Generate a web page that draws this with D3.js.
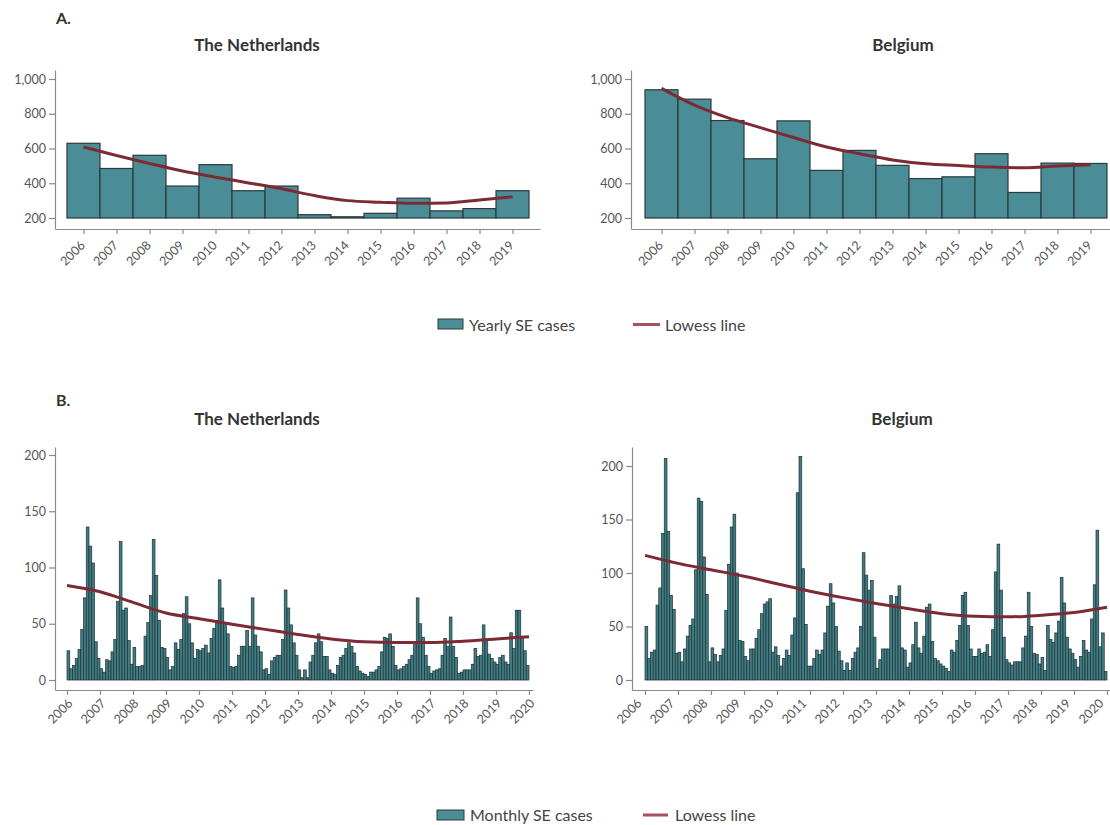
<!DOCTYPE html>
<html>
<head>
<meta charset="utf-8">
<script src="https://cdn.jsdelivr.net/npm/d3@7"></script>
<style>
  body { margin: 0; background: #fff; }
  svg { display: block; font-family: Lato, "Open Sans", sans-serif; }
</style>
</head>
<body>
<script>
// ---- data ----------------------------------------------------------------
const years = [2006, 2007, 2008, 2009, 2010, 2011, 2012, 2013, 2014, 2015, 2016, 2017, 2018, 2019];
const monthAxisYears = [2006, 2007, 2008, 2009, 2010, 2011, 2012, 2013, 2014, 2015, 2016, 2017, 2018, 2019, 2020];

const yearlyTicks = [200, 400, 600, 800, 1000];
const monthlyTicks = [0, 50, 100, 150, 200];

// Yearly SE cases
const nlYearly = [630, 485, 561, 384, 507, 357, 384, 219, 207, 227, 314, 241, 254, 357];
const beYearly = [938, 884, 761, 541, 759, 474, 589, 503, 427, 437, 570, 347, 516, 514];

// Lowess fit of the yearly counts (one value per year)
const nlYearlyLowess = [609, 560, 514, 470, 435, 402, 368, 329, 300, 291, 285, 287, 304, 322];
const beYearlyLowess = [946, 850, 778, 720, 663, 609, 570, 534, 512, 502, 493, 489, 499, 507];

// Monthly SE cases, Jan 2006 - Dec 2019
const nlMonthly = [
  26, 10, 13, 19, 27, 45, 73, 136, 119, 104, 34, 19,
  10, 7, 18, 17, 25, 36, 70, 123, 62, 64, 35, 14,
  29, 12, 12, 13, 39, 51, 75, 125, 93, 53, 29, 28,
  20, 9, 12, 33, 27, 36, 59, 74, 50, 33, 19, 27,
  26, 28, 31, 24, 37, 46, 53, 89, 64, 51, 41, 12,
  11, 12, 22, 30, 30, 44, 30, 73, 40, 30, 25, 9,
  10, 5, 17, 20, 22, 22, 36, 80, 64, 49, 33, 22,
  9, 2, 9, 2, 16, 22, 33, 41, 34, 21, 21, 9,
  6, 5, 13, 20, 22, 28, 33, 30, 24, 12, 8, 6,
  5, 3, 7, 7, 9, 12, 25, 38, 37, 41, 30, 13,
  9, 10, 12, 14, 18, 22, 34, 73, 50, 38, 22, 12,
  6, 8, 9, 10, 22, 37, 30, 56, 30, 20, 6, 7,
  9, 9, 9, 14, 28, 21, 22, 49, 36, 23, 19, 16,
  14, 20, 22, 16, 14, 42, 28, 62, 62, 38, 26, 13
];
const beMonthly = [
  50, 20, 26, 28, 70, 86, 137, 207, 139, 79, 66, 25,
  26, 17, 29, 41, 51, 57, 103, 170, 167, 115, 80, 17,
  30, 24, 17, 23, 29, 65, 108, 143, 155, 100, 37, 36,
  22, 18, 29, 29, 39, 47, 62, 71, 73, 76, 26, 31,
  23, 13, 20, 28, 23, 42, 58, 175, 209, 104, 52, 13,
  13, 20, 28, 24, 28, 44, 69, 90, 72, 50, 27, 18,
  9, 16, 9, 20, 26, 30, 50, 119, 98, 84, 93, 40,
  11, 19, 29, 29, 29, 79, 71, 78, 88, 30, 28, 12,
  16, 33, 54, 30, 25, 41, 68, 71, 36, 20, 18, 15,
  13, 11, 8, 28, 26, 37, 51, 79, 82, 51, 29, 22,
  22, 29, 25, 26, 33, 22, 47, 101, 127, 84, 40, 19,
  16, 14, 17, 17, 17, 30, 41, 82, 50, 25, 24, 15,
  21, 9, 51, 38, 35, 44, 55, 96, 72, 40, 29, 25,
  19, 12, 22, 37, 28, 26, 57, 89, 140, 31, 44, 8
];

// Lowess fit of the monthly counts, sampled at each 1 January (2006 - 2020)
const nlMonthlyLowess = [84, 78.5, 69, 59.5, 54.5, 49.5, 45, 40.5, 36.5, 34, 33.3, 33.3, 34.5, 36.5, 38.5];
const beMonthlyLowess = [116.5, 109, 103, 97, 90, 83, 77, 71.5, 66.5, 62, 59.5, 59, 60.5, 63, 68];

// ---- styling -------------------------------------------------------------
const COL = {
  bar: "#4a8d97",
  barStroke: "#2b3a3d",
  mBar: "#3f7e87",
  mStroke: "#22302f",
  lowess: "#7c2b35",
  legendLine: "#a5505a",
  axis: "#8a8a8a",
  tick: "#555",
  title: "#333"
};

const svg = d3.select("body").append("svg").attr("width", 1110).attr("height", 825);

function styleAxis(g) {
  g.select(".domain").attr("stroke", COL.axis).attr("stroke-width", 1.2);
  g.selectAll(".tick line").attr("stroke", COL.axis).attr("stroke-width", 1.2);
  g.selectAll(".tick text").attr("fill", COL.tick).style("font-size", "12.5px")
    .style("font-family", "Lato, 'Open Sans', sans-serif");
}

// year labels hang diagonally below each tick, ending at (dx, dy) from it
function rotateYearLabels(g, dx, dy) {
  g.selectAll(".tick text")
    .attr("x", 0).attr("y", 0).attr("dx", 0).attr("dy", 0)
    .attr("text-anchor", "end")
    .attr("transform", `translate(${dx},${dy}) rotate(-45)`);
}

function title(text, cx, y) {
  svg.append("text").attr("x", cx).attr("y", y).attr("text-anchor", "middle")
    .attr("fill", COL.title).style("font-size", "17px").style("font-weight", "700")
    .text(text);
}

// ---- panel A: yearly histogram with lowess line ---------------------------
function yearlyPanel(cfg, values, lowess) {
  const x = d3.scaleLinear().domain([years[0] - 0.5, years[years.length - 1] + 0.5]).range([cfg.barL, cfg.barR]);
  const xAxisScale = x.copy().domain([x.invert(cfg.axL), x.invert(cfg.axR)]).range([cfg.axL, cfg.axR]);
  const y = d3.scaleLinear().domain([200, 1000]).range([cfg.y200, cfg.y1000]);
  const yAxisScale = y.copy().domain([y.invert(cfg.axB), y.invert(cfg.axT)]).range([cfg.axB, cfg.axT]);

  const g = svg.append("g");

  g.selectAll("rect.bar").data(years).join("rect")
    .attr("class", "bar")
    .attr("x", d => x(d - 0.5))
    .attr("width", d => x(d + 0.5) - x(d - 0.5))
    .attr("y", (d, i) => y(values[i]))
    .attr("height", (d, i) => y(200) - y(values[i]))
    .attr("fill", COL.bar)
    .attr("stroke", COL.barStroke)
    .attr("stroke-width", 1.2);

  const line = d3.line().x((d, i) => x(years[i])).y(d => y(d)).curve(d3.curveMonotoneX);
  g.append("path").datum(lowess).attr("d", line)
    .attr("fill", "none").attr("stroke", COL.lowess).attr("stroke-width", 3);

  const ax = g.append("g").attr("transform", `translate(0,${cfg.axB})`)
    .call(d3.axisBottom(xAxisScale).tickValues(years).tickFormat(d3.format("d")).tickSize(5).tickSizeOuter(0));
  styleAxis(ax); rotateYearLabels(ax, 2, 17);

  const ay = g.append("g").attr("transform", `translate(${cfg.axL},0)`)
    .call(d3.axisLeft(yAxisScale).tickValues(yearlyTicks).tickFormat(d3.format(",")).tickSize(6).tickSizeOuter(0));
  styleAxis(ay);
}

// ---- panel B: monthly bars with lowess line -------------------------------
function monthlyPanel(cfg, values, lowess) {
  const x = d3.scaleLinear().domain([2006, 2020]).range([cfg.x0, cfg.x1]);
  const xAxisScale = x.copy().domain([x.invert(cfg.axL), x.invert(cfg.axR)]).range([cfg.axL, cfg.axR]);
  const y = d3.scaleLinear().domain([0, 200]).range([cfg.y0, cfg.y200]);
  const yAxisScale = y.copy().domain([y.invert(cfg.axB), y.invert(cfg.axT)]).range([cfg.axB, cfg.axT]);

  const g = svg.append("g");

  g.selectAll("rect.m").data(values).join("rect")
    .attr("class", "m")
    .attr("x", (d, i) => x(2006 + i / 12))
    .attr("width", (d, i) => x(2006 + (i + 1) / 12) - x(2006 + i / 12))
    .attr("y", d => y(d))
    .attr("height", d => y(0) - y(d))
    .attr("fill", COL.mBar)
    .attr("stroke", COL.mStroke)
    .attr("stroke-width", 0.7);

  const line = d3.line().x((d, i) => x(monthAxisYears[i])).y(d => y(d)).curve(d3.curveMonotoneX);
  g.append("path").datum(lowess).attr("d", line)
    .attr("fill", "none").attr("stroke", COL.lowess).attr("stroke-width", 3);

  const ax = g.append("g").attr("transform", `translate(0,${cfg.axB})`)
    .call(d3.axisBottom(xAxisScale).tickValues(monthAxisYears).tickFormat(d3.format("d")).tickSize(5).tickSizeOuter(0));
  styleAxis(ax); rotateYearLabels(ax, cfg.labDx, 14);

  const ay = g.append("g").attr("transform", `translate(${cfg.axL},0)`)
    .call(d3.axisLeft(yAxisScale).tickValues(monthlyTicks).tickSize(6).tickSizeOuter(0));
  styleAxis(ay);
}

// ---- legend ---------------------------------------------------------------
function legend(cfg, label) {
  const g = svg.append("g").style("font-size", "16px").attr("fill", "#444");
  g.append("rect").attr("x", cfg.rx).attr("y", cfg.ry).attr("width", cfg.rw).attr("height", 10)
    .attr("fill", COL.bar).attr("stroke", COL.barStroke).attr("stroke-width", 1);
  g.append("text").attr("x", cfg.tx).attr("y", cfg.ty).text(label);
  g.append("line").attr("x1", cfg.lx).attr("x2", cfg.lx + cfg.lw).attr("y1", cfg.ly).attr("y2", cfg.ly)
    .attr("stroke", COL.legendLine).attr("stroke-width", 3);
  g.append("text").attr("x", cfg.l2x).attr("y", cfg.ty).text("Lowess line");
}

// ---- layout ---------------------------------------------------------------
svg.append("text").attr("x", 56).attr("y", 24).attr("fill", COL.title)
  .style("font-size", "16px").style("font-weight", "700").text("A.");
svg.append("text").attr("x", 56).attr("y", 406).attr("fill", COL.title)
  .style("font-size", "16px").style("font-weight", "700").text("B.");

title("The Netherlands", 257, 51);
title("Belgium", 903, 51);
title("The Netherlands", 257, 425);
title("Belgium", 902, 425);

yearlyPanel({ axL: 55, axR: 540, barL: 67, barR: 529, axB: 229, axT: 70, y200: 218, y1000: 79 }, nlYearly, nlYearlyLowess);
yearlyPanel({ axL: 631, axR: 1115, barL: 645, barR: 1107, axB: 229, axT: 70, y200: 218, y1000: 79 }, beYearly, beYearlyLowess);

monthlyPanel({ axL: 55, axR: 533, x0: 67, x1: 529, axB: 690, axT: 447, y0: 680, y200: 455, labDx: 6 }, nlMonthly, nlMonthlyLowess);
monthlyPanel({ axL: 632, axR: 1115, x0: 645, x1: 1107, axB: 690, axT: 447, y0: 680, y200: 466, labDx: -3 }, beMonthly, beMonthlyLowess);

legend({ rx: 438, ry: 319, rw: 25, tx: 469, ty: 331, lx: 633, lw: 27, ly: 324.5, l2x: 665 }, "Yearly SE cases");
legend({ rx: 437, ry: 810, rw: 27, tx: 470, ty: 821, lx: 643, lw: 25, ly: 815, l2x: 675 }, "Monthly SE cases");
</script>
</body>
</html>
